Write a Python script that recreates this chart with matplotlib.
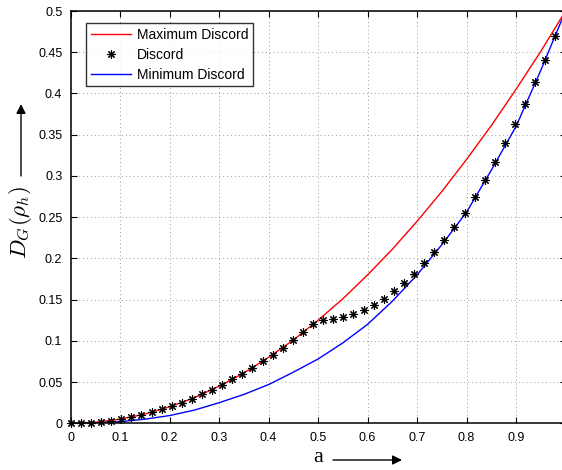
import numpy as np
import matplotlib
matplotlib.use("Agg")
import matplotlib.pyplot as plt

plt.rcParams["font.family"] = ["Liberation Sans", "DejaVu Sans"]
plt.rcParams["mathtext.fontset"] = "cm"

# =========================
# DATA
# =========================

# smooth curves, sampled every 0.05
a_curve = [0.00, 0.05, 0.10, 0.15, 0.20, 0.25, 0.30, 0.35, 0.40, 0.45, 0.50,
           0.55, 0.60, 0.65, 0.70, 0.75, 0.80, 0.85, 0.90, 0.95, 1.00]
max_discord = [0.0, 0.0013, 0.005, 0.0112, 0.020, 0.031, 0.045, 0.061, 0.080, 0.101, 0.125,
               0.151, 0.180, 0.211, 0.245, 0.281, 0.320, 0.361, 0.405, 0.451, 0.500]
min_discord = [0.0, 0.0005, 0.002, 0.005, 0.0094, 0.016, 0.025, 0.035, 0.047, 0.062, 0.078,
               0.0975, 0.120, 0.148, 0.180, 0.2165, 0.256, 0.307, 0.360, 0.428, 0.500]

# discord markers
a_pts = [0.0, 0.0204, 0.0408, 0.0612, 0.0816, 0.102, 0.1224, 0.1429, 0.1633, 0.1837,
         0.2041, 0.2245, 0.2449, 0.2653, 0.2857, 0.3061, 0.3265, 0.3469, 0.3673, 0.3878,
         0.4082, 0.4286, 0.449, 0.4694, 0.4898, 0.5102, 0.5306, 0.551, 0.5714, 0.5918,
         0.6122, 0.6327, 0.6531, 0.6735, 0.6939, 0.7143, 0.7347, 0.7551, 0.7755, 0.7959,
         0.8163, 0.8367, 0.8571, 0.8776, 0.898, 0.9184, 0.9388, 0.9592, 0.9796, 1.0]
discord = [0.0, 0.0002, 0.0008, 0.0019, 0.0033, 0.0052, 0.0075, 0.0102, 0.0133, 0.0169,
           0.0208, 0.0252, 0.030, 0.0352, 0.0408, 0.0469, 0.0533, 0.0602, 0.0675, 0.0752,
           0.0833, 0.0918, 0.1008, 0.1102, 0.120, 0.1255, 0.127, 0.1295, 0.132, 0.1376,
           0.1436, 0.151, 0.1606, 0.170, 0.181, 0.194, 0.2075, 0.222, 0.2385, 0.2555,
           0.275, 0.295, 0.3166, 0.3396, 0.363, 0.387, 0.414, 0.4406, 0.4697, 0.500]

x_ticks = [0, 0.1, 0.2, 0.3, 0.4, 0.5, 0.6, 0.7, 0.8, 0.9]
x_ticklabels = ["0", "0.1", "0.2", "0.3", "0.4", "0.5", "0.6", "0.7", "0.8", "0.9"]
y_ticks = [0, 0.05, 0.1, 0.15, 0.2, 0.25, 0.3, 0.35, 0.4, 0.45, 0.5]
y_ticklabels = ["0", "0.05", "0.1", "0.15", "0.2", "0.25", "0.3", "0.35", "0.4", "0.45", "0.5"]

# =========================
# PLOT
# =========================

W, H = 562, 470
fig = plt.figure(figsize=(W / 100, H / 100), dpi=100)
# axes runs past the right edge (original image is cropped at a~0.99)
ax = fig.add_axes([70.7 / W, 46.7 / H, 494.8 / W, 412.3 / H])

ax.plot(a_curve, max_discord, color="red", lw=1.0, label="Maximum Discord")
ax.plot(a_pts, discord, linestyle="none", marker=(8, 2, 0), markersize=6,
        markeredgewidth=0.8, color="black", label="Discord", clip_on=False, zorder=3)
ax.plot(a_curve, min_discord, color="blue", lw=1.0, label="Minimum Discord")

ax.set_xlim(0, 1)
ax.set_ylim(0, 0.5)
ax.set_xticks(x_ticks)
ax.set_xticklabels(x_ticklabels)
ax.set_yticks(y_ticks)
ax.set_yticklabels(y_ticklabels)
ax.tick_params(direction="in", top=True, right=True, length=4, width=0.8,
               labelsize=9, pad=6)
ax.grid(True, color="#9a9a9a", linestyle=(0, (1, 3)), linewidth=0.7)
for s in ax.spines.values():
    s.set_linewidth(1.1)

leg = ax.legend(loc="upper left", bbox_to_anchor=(86 / W, (H - 23) / H),
                bbox_transform=fig.transFigure, borderaxespad=0, fontsize=10,
                frameon=True, fancybox=False, edgecolor="black",
                handlelength=2.9, handletextpad=0.4, labelspacing=0.42,
                borderpad=0.35)
leg.get_frame().set_linewidth(1.0)
leg.set_zorder(5)

# axis labels with arrows
fig.text(318 / W, (H - 457) / H, "a", family="Liberation Serif", fontsize=16,
         ha="center", va="center")
ax.annotate("", xy=(402, H - 460), xytext=(333, H - 460), xycoords="figure pixels",
            arrowprops=dict(arrowstyle="-|>", color="black", lw=1.0,
                            mutation_scale=14, shrinkA=0, shrinkB=0))
fig.text(21 / W, (H - 222) / H, r"$D_G(\rho_h)$", fontsize=16.5, rotation=90,
         ha="center", va="center")
ax.annotate("", xy=(21, H - 104), xytext=(21, H - 176), xycoords="figure pixels",
            arrowprops=dict(arrowstyle="-|>", color="black", lw=1.0,
                            mutation_scale=14, shrinkA=0, shrinkB=0))

plt.savefig("out.png", dpi=100)
plt.close()
